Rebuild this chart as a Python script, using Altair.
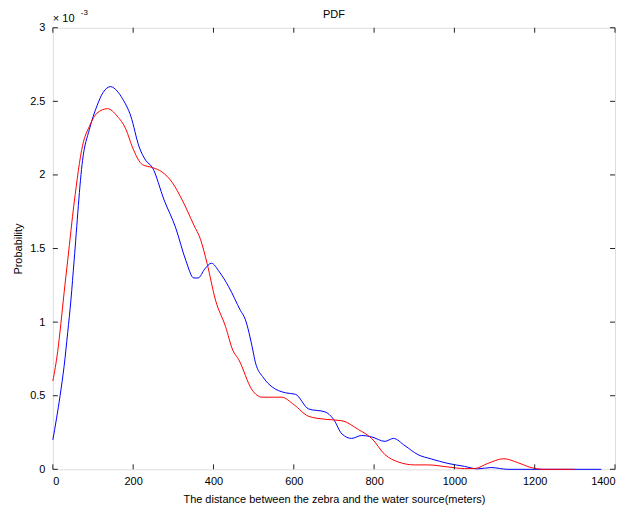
import altair as alt
import pandas as pd

# distance (m) and probability (x1e-3)
blue_x = [0, 18, 28, 37, 45, 53, 74, 91, 110, 125, 144, 160, 173, 194, 215, 231, 248, 277, 306, 331, 351,
          362, 378, 395, 415, 438, 467, 479, 498, 504, 525, 546, 579, 604, 637, 678, 699, 720, 744, 769,
          794, 827, 848, 877, 909, 943, 984, 1025, 1058, 1091, 1133, 1366]
blue_y = [0.20, 0.50, 0.70, 0.93, 1.15, 1.42, 2.10, 2.31, 2.47, 2.56, 2.60, 2.57, 2.52, 2.40, 2.19, 2.10,
          2.05, 1.83, 1.64, 1.42, 1.30, 1.30, 1.36, 1.40, 1.34, 1.24, 1.08, 1.02, 0.81, 0.73, 0.62, 0.56,
          0.52, 0.51, 0.41, 0.39, 0.34, 0.24, 0.21, 0.23, 0.22, 0.19, 0.21, 0.16, 0.10, 0.07, 0.04, 0.02,
          0.003, 0.012, 0.0, 0.0]

red_x = [0, 12, 20, 28, 37, 53, 74, 91, 110, 136, 160, 182, 198, 223, 248, 272, 297, 322, 351, 368, 384,
         405, 430, 448, 463, 496, 521, 570, 600, 637, 678, 720, 761, 794, 827, 860, 901, 934, 984, 1025,
         1050, 1083, 1123, 1158, 1191, 1224, 1299]
red_y = [0.60, 0.80, 0.99, 1.20, 1.42, 1.81, 2.20, 2.33, 2.42, 2.45, 2.40, 2.31, 2.19, 2.07, 2.05, 2.02,
         1.95, 1.83, 1.66, 1.56, 1.40, 1.15, 0.97, 0.81, 0.745, 0.54, 0.49, 0.49, 0.44, 0.36, 0.34, 0.33,
         0.27, 0.21, 0.10, 0.05, 0.03, 0.03, 0.016, 0.005, 0.005, 0.04, 0.072, 0.045, 0.012, 0.0, 0.0]

x_ticks = [0, 200, 400, 600, 800, 1000, 1200, 1400]
y_ticks = [0, 0.5, 1, 1.5, 2, 2.5, 3]
title_text = "PDF"
exp_text = "\u00d7 10"
exp_power = "-3"

W, H = 564, 443
FONT = "Liberation Sans"

blue = pd.DataFrame({"x": blue_x, "y": blue_y})
red = pd.DataFrame({"x": red_x, "y": red_y})
xt = pd.DataFrame({"x": x_ticks})
yt = pd.DataFrame({"y": y_ticks})

xs = alt.Scale(domain=[0, 1400], nice=False, zero=False)
ys = alt.Scale(domain=[0, 3], nice=False, zero=False)

blue_line = alt.Chart(blue).mark_line(color="#0000ff", strokeWidth=1, interpolate="monotone").encode(
    x=alt.X("x:Q", scale=xs, title="The distance between the zebra and the water source(meters)",
            axis=alt.Axis(values=x_ticks, format="d", grid=False, domain=False, ticks=False, labelPadding=6,
                          titlePadding=7, labelFontSize=11, titleFontSize=11, titleFontWeight="normal",
                          labelColor="black", titleColor="black", labelFont=FONT, titleFont=FONT)),
    y=alt.Y("y:Q", scale=ys, title="Probability",
            axis=alt.Axis(values=y_ticks, format=".1~f", grid=False, domain=False, ticks=False,
                          labelPadding=8, titlePadding=6, labelFontSize=11, titleFontSize=11,
                          titleFontWeight="normal", labelColor="black", titleColor="black",
                          labelFont=FONT, titleFont=FONT)),
)
red_line = alt.Chart(red).mark_line(color="#ff0000", strokeWidth=1, interpolate="monotone").encode(
    x=alt.X("x:Q", scale=xs), y=alt.Y("y:Q", scale=ys)
)

tick_col = "#222222"
bot_ticks = alt.Chart(xt).mark_rule(color=tick_col, strokeWidth=1).encode(
    x=alt.X("x:Q", scale=xs), y=alt.value(H), y2=alt.value(H - 5))
top_ticks = alt.Chart(xt).mark_rule(color=tick_col, strokeWidth=1).encode(
    x=alt.X("x:Q", scale=xs), y=alt.value(0), y2=alt.value(5))
left_ticks = alt.Chart(yt).mark_rule(color=tick_col, strokeWidth=1).encode(
    y=alt.Y("y:Q", scale=ys), x=alt.value(0), x2=alt.value(5))
right_ticks = alt.Chart(yt).mark_rule(color=tick_col, strokeWidth=1).encode(
    y=alt.Y("y:Q", scale=ys), x=alt.value(W), x2=alt.value(W - 5))

title_mark = alt.Chart(pd.DataFrame({"t": [title_text]})).mark_text(
    align="center", baseline="alphabetic", fontSize=11, font=FONT, color="black").encode(
    text="t:N", x=alt.value(W / 2), y=alt.value(-10))
exp_base = alt.Chart(pd.DataFrame({"t": [exp_text]})).mark_text(
    align="left", baseline="alphabetic", fontSize=11, font=FONT, color="black").encode(
    text="t:N", x=alt.value(0), y=alt.value(-6))
exp_sup = alt.Chart(pd.DataFrame({"t": [exp_power]})).mark_text(
    align="left", baseline="alphabetic", fontSize=8, font=FONT, color="black").encode(
    text="t:N", x=alt.value(28), y=alt.value(-13))

chart = alt.layer(
    blue_line, red_line, bot_ticks, top_ticks, left_ticks, right_ticks, title_mark, exp_base, exp_sup
).properties(
    width=W, height=H,
    autosize=alt.AutoSizeParams(type="none"),
    padding={"left": 45, "top": 19, "right": 8, "bottom": 38},
).configure_view(stroke="#222222", strokeWidth=1).configure(background="white")

chart.save("out.html", embed_options={"renderer": "svg", "actions": False})
